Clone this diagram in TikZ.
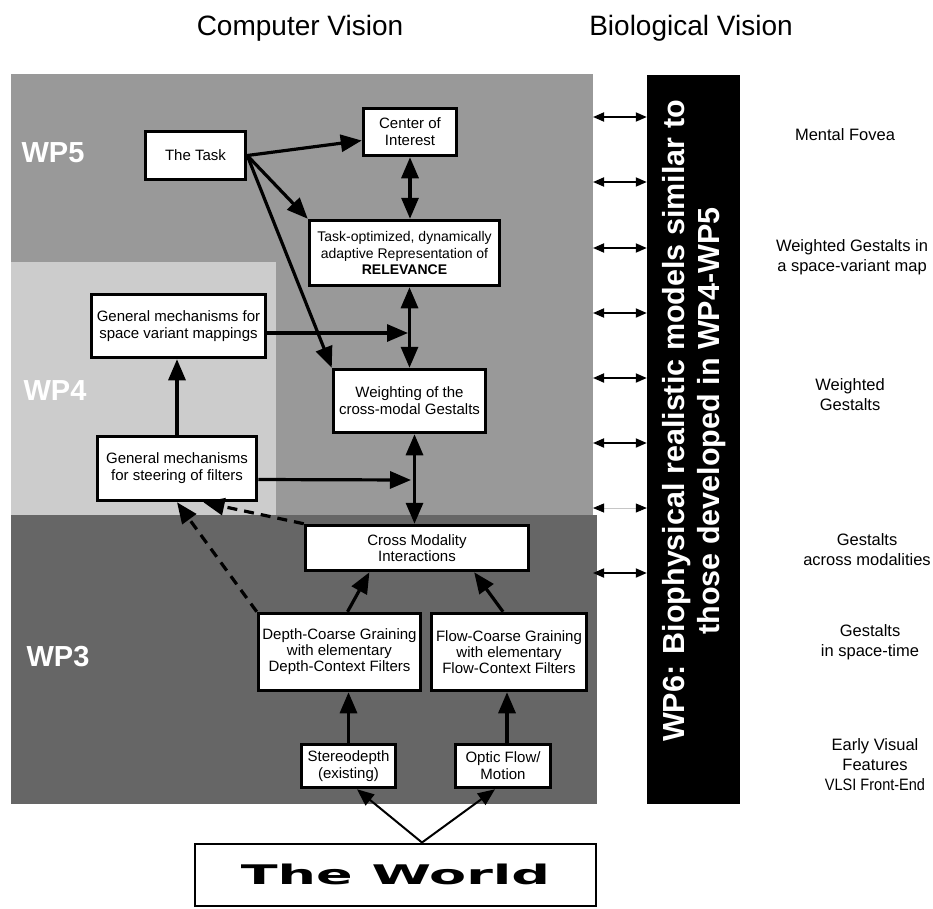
\documentclass[tikz,border=0pt]{standalone}
\usepackage{fontspec}
\setmainfont{Liberation Sans}
\newfontfamily\worldfont{DejaVu Sans}
\usepackage{graphicx}
\usetikzlibrary{arrows.meta}
\definecolor{wpfive}{gray}{0.6}
\definecolor{wpfour}{gray}{0.8}
\definecolor{wpthree}{gray}{0.4}

\begin{document}
\begin{tikzpicture}[x=1pt,y=-1pt,inner sep=0pt,
  box/.style={draw,line width=3.5pt,fill=white,align=center,font=\fontsize{15}{17}\selectfont},
  wplabel/.style={text=white,font=\fontsize{29}{29}\selectfont\bfseries},
  side/.style={align=center,font=\fontsize{16.5}{20}\selectfont},
  title/.style={anchor=base,font=\fontsize{28}{28}\selectfont},
  arr/.style={line width=3.2pt,-{Triangle[length=21pt,width=17pt]}},
  darr/.style={line width=3.2pt,{Triangle[length=21pt,width=17pt]}-{Triangle[length=21pt,width=17pt]}},
  dasharr/.style={arr,dash pattern=on 10pt off 7pt},
  sarr/.style={line width=1.8pt,{Triangle[length=11pt,width=9pt]}-{Triangle[length=11pt,width=9pt]}},
  sarrthin/.style={line width=0.8pt,draw=gray!45,{Triangle[length=11pt,width=9pt,color=black]}-{Triangle[length=11pt,width=9pt,color=black]}},
  warr/.style={line width=2pt,-{Triangle[length=17pt,width=14pt]}}]
\useasboundingbox (0,0) rectangle (933,908);
\fill[wpfive] (11,74) rectangle (593,515);
\fill[wpfour] (11,262) rectangle (276,515);
\fill[wpthree] (11,515) rectangle (597,804);
\coordinate (wp5east) at (593,74);

\node[title] (cv) at (300,35) {Computer Vision};
\node[title] (bv) at (691,35) {Biological Vision};

\node[wplabel] (wp5) at (53,153) {WP5};
\node[wplabel] (wp4) at (55,391) {WP4};
\node[wplabel] (wp3) at (58,657) {WP3};

\node[box,minimum width=100pt,minimum height=48pt] (task) at (195.5,155.5) {The Task};
\node[box,minimum width=93pt,minimum height=47pt] (coi) at (410,132) {Center of\\Interest};
\node[box,minimum width=190pt,minimum height=65pt,font=\fontsize{14}{16.5}\selectfont] (rel) at (404.5,253) {Task-optimized, dynamically\\adaptive Representation of\\\textbf{RELEVANCE}};
\node[box,minimum width=174pt,minimum height=63pt] (svm) at (178.5,326) {General mechanisms for\\space variant mappings};
\node[box,minimum width=152pt,minimum height=63pt] (wcg) at (409.5,401) {Weighting of the\\cross-modal Gestalts};
\node[box,minimum width=159pt,minimum height=64pt] (sof) at (177,468.5) {General mechanisms\\for steering of filters};
\node[box,minimum width=223pt,minimum height=45pt,font=\fontsize{15}{16}\selectfont] (cmi) at (417,548) {Cross Modality\\Interactions};
\node[box,minimum width=162pt,minimum height=77pt,font=\fontsize{15}{16}\selectfont] (dcg) at (339.5,652) {Depth-Coarse Graining\\with elementary\\Depth-Context Filters};
\node[box,minimum width=155pt,minimum height=77pt,font=\fontsize{15}{16}\selectfont] (fcg) at (509,652) {Flow-Coarse Graining\\with elementary\\Flow-Context Filters};
\node[box,minimum width=94pt,minimum height=43pt] (stereo) at (348.5,766) {Stereodepth\\(existing)};
\node[box,minimum width=95pt,minimum height=43pt] (optic) at (503,766) {Optic Flow/\\Motion};
\node[box,line width=2pt,minimum width=401pt,minimum height=62pt] (world) at (395.5,874.5) {\scalebox{2.0}[1]{\worldfont\fontsize{27}{27}\selectfont\bfseries The World}};

\node[fill=black,minimum width=93pt,minimum height=729pt] (wp6) at (693.5,439.5) {};
\node[rotate=90,text=white,align=center,font=\fontsize{30.5}{35}\selectfont\bfseries] (wp6text) at (694.5,421) {WP6: Biophysical realistic models similar to\\those developed in WP4-WP5};

\node[side] (fovea) at (845,135) {Mental Fovea};
\node[side] (wgmap) at (852,257) {Weighted Gestalts in\\a space-variant map};
\node[side] (wg) at (850,395) {Weighted\\Gestalts};
\node[side] (gmod) at (867,550) {Gestalts\\across modalities};
\node[side] (gst) at (870,642) {Gestalts\\in space-time};
\node[side] (early) at (875,765) {Early Visual\\Features\\\scalebox{0.88}[1]{VLSI Front-End}};

\coordinate (svmhit) at (408,333);
\coordinate (sofhit) at (411,480);

\path (task.east) edge[arr] (coi.190);
\path (task.east) edge[arr] (rel.north west);
\path (task.east) edge[arr] (wcg.north west);
\path (coi.south) edge[darr] (coi.south |- rel.north);
\path (rel.south -| wcg.north) edge[darr] (wcg.north);
\path ([yshift=-7pt]svm.east) edge[arr] (svmhit);
\path ([xshift=5pt]wcg.south) edge[darr] ([xshift=5pt]wcg.south |- cmi.north);
\path ([yshift=-11pt]sof.east) edge[arr] (sofhit);
\path (sof.north) edge[arr] (sof.north |- svm.south);
\path (cmi.north west) edge[dasharr] (sof.-52);
\path (dcg.north west) edge[dasharr] (sof.south);
\path ([xshift=8pt]dcg.north) edge[arr] (cmi.-153);
\path ([xshift=-6pt]fcg.north) edge[arr] (cmi.-23);
\path (stereo.north) edge[arr] (stereo.north |- dcg.south);
\path ([xshift=4pt]optic.north) edge[arr] ([xshift=4pt]optic.north |- fcg.south);
\path ([xshift=26.5pt]world.north) edge[warr] (stereo.-70);
\path ([xshift=26.5pt]world.north) edge[warr] (optic.-109);

\foreach \y in {117,182,248,313,378,443,573}
  \path (wp5east |- 0,\y) edge[sarr] (wp6.west |- 0,\y);
\path (wp5east |- 0,508) edge[sarrthin] (wp6.west |- 0,508);
\end{tikzpicture}
\end{document}
